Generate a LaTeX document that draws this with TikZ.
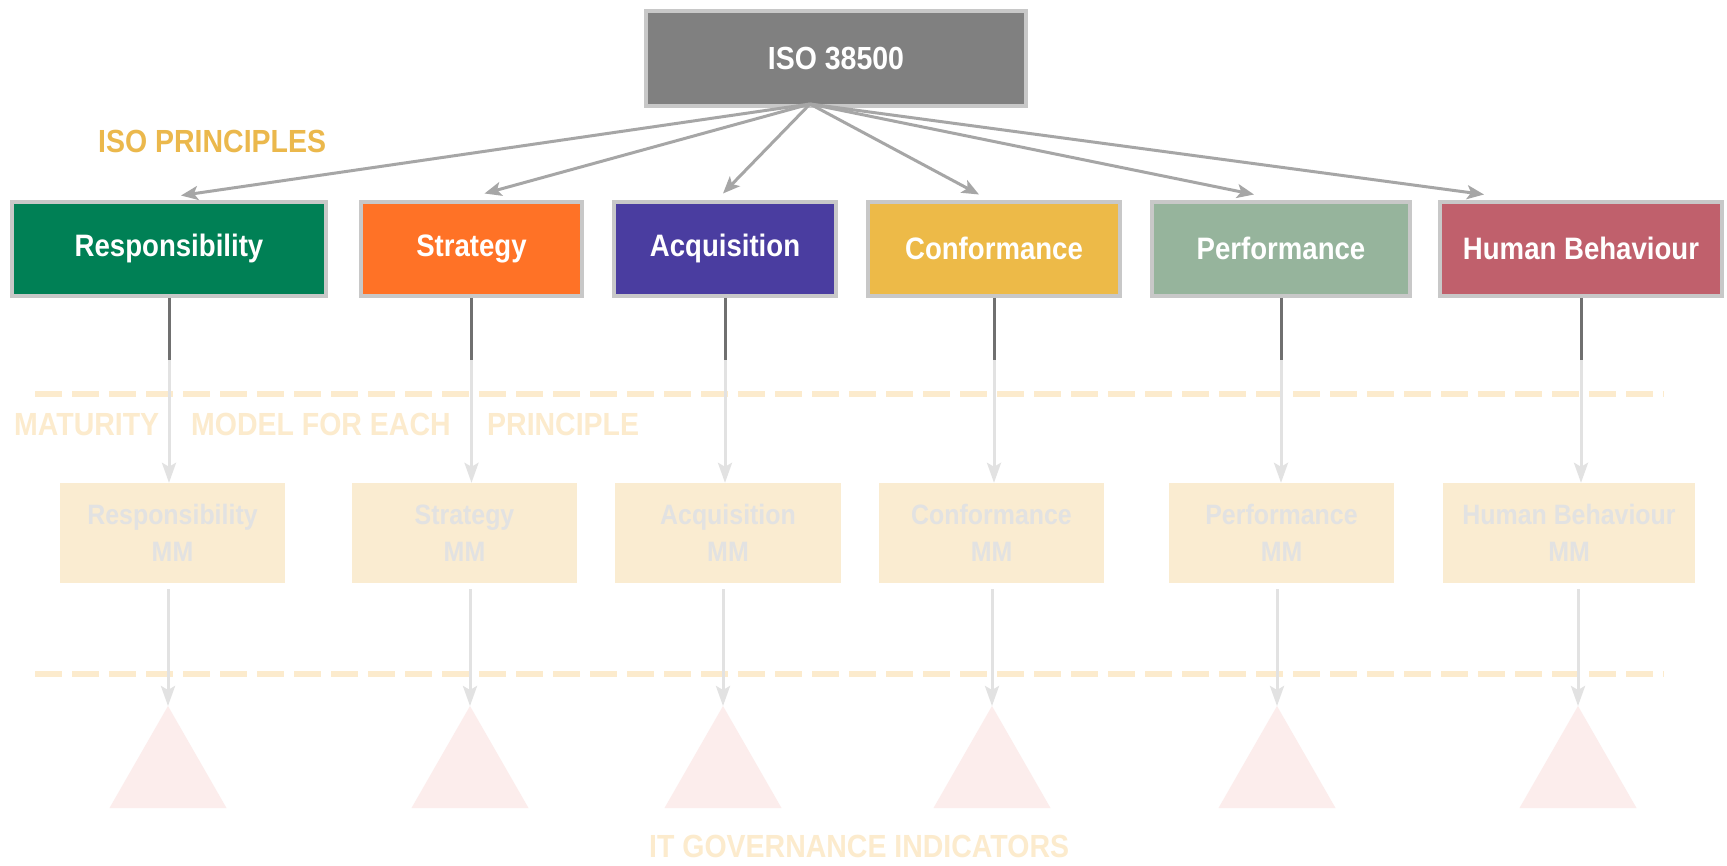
\documentclass[tikz,border=0pt]{standalone}
\usepackage{fontspec}
\newfontfamily\diagfont[FakeStretch=0.89]{Liberation Sans}
\usetikzlibrary{arrows.meta}

\definecolor{isogray}{HTML}{808080}
\definecolor{boxline}{HTML}{C8C8C8}
\definecolor{respgreen}{HTML}{008055}
\definecolor{stratorange}{HTML}{FF7226}
\definecolor{acqpurple}{HTML}{4A3DA0}
\definecolor{confyellow}{HTML}{EDBA48}
\definecolor{perfgreen}{HTML}{96B49C}
\definecolor{humanred}{HTML}{C0606C}
\definecolor{arrowgray}{HTML}{A6A6A6}
\definecolor{stemgray}{HTML}{707070}
\definecolor{fadegray}{HTML}{E2E2E2}
\definecolor{labelorange}{HTML}{EBB84C}
\definecolor{fadeorange}{HTML}{FCEBCD}
\definecolor{mmfill}{HTML}{FAECD1}
\definecolor{trifill}{HTML}{FCEDEC}

\begin{document}
\begin{tikzpicture}[x=1pt, y=-1pt, >=Stealth]
\tikzset{
  box/.style={
    draw=boxline, line width=4pt, rectangle,
    minimum height=94pt, inner sep=0pt,
    text=white, font=\diagfont\bfseries\fontsize{31}{37}\selectfont
  },
  mmbox/.style={
    fill=mmfill, rectangle, minimum height=100pt, inner sep=0pt,
    align=center, text=fadegray, font=\diagfont\bfseries\fontsize{28}{37}\selectfont
  },
  bandtext/.style={anchor=base west, inner sep=0pt, font=\diagfont\bfseries\fontsize{32}{38}\selectfont},
  isoarrow/.style={draw=arrowgray, line width=3pt, -{Stealth[length=17pt, width=14pt, inset=4pt]}},
  fadearrow/.style={draw=fadegray, line width=3pt, -{Stealth[length=20pt, width=14pt, inset=4pt]}},
  stem/.style={draw=stemgray, line width=3pt},
  dashline/.style={draw=fadeorange, line width=6pt, dash pattern=on 27pt off 10pt}
}
\path[use as bounding box, fill=white] (0,0) rectangle (1727,865);

\node[box, fill=isogray, minimum width=380pt, minimum height=95pt, font=\diagfont\bfseries\fontsize{32}{38}\selectfont] (iso) at (836,58.5) {ISO 38500};
\node[bandtext, text=labelorange] (isoprinc) at (98,152) {ISO PRINCIPLES};

\node[box, fill=respgreen,   minimum width=314pt] (resp) at (169,248.5)  {Responsibility};
\node[box, fill=stratorange, minimum width=221pt] (strat) at (471.5,248.5) {Strategy};
\node[box, fill=acqpurple,   minimum width=222pt] (acq) at (725,248.5)   {Acquisition};
\node[box, fill=confyellow,  minimum width=252pt] (conf) at (994,248.5)  {Conformance};
\node[box, fill=perfgreen,   minimum width=258pt] (perf) at (1281,248.5) {Performance};
\node[box, fill=humanred,    minimum width=282pt] (human) at (1581,248.5) {Human Behaviour};

\coordinate (hub) at ([xshift=-26pt, yshift=4pt]iso.south);
\draw[isoarrow] (hub) -- ([xshift=12pt, yshift=4pt]resp.north);
\draw[isoarrow] (hub) -- ([xshift=13pt, yshift=6pt]strat.north);
\draw[isoarrow] (hub) -- ([xshift=-2pt, yshift=6pt]acq.north);
\draw[isoarrow] (hub) -- ([xshift=-15pt, yshift=5pt]conf.north);
\draw[isoarrow] (hub) -- ([xshift=-27pt, yshift=5pt]perf.north);
\draw[isoarrow] (hub) -- ([xshift=-97pt, yshift=5pt]human.north);

\draw[dashline] (35,394) -- (1664,394);
\draw[dashline] (35,674) -- (1664,674);

\node[bandtext, text=fadeorange] (maturity) at (14,435)  {MATURITY};
\node[bandtext, text=fadeorange] (modelfor) at (191,435) {MODEL FOR EACH};
\node[bandtext, text=fadeorange] (principle) at (487,435) {PRINCIPLE};

\node[mmbox, minimum width=225pt] (mmresp) at (172.5,533)  {Responsibility\\MM};
\node[mmbox, minimum width=225pt] (mmstrat) at (464.5,533) {Strategy\\MM};
\node[mmbox, minimum width=226pt] (mmacq) at (728,533)     {Acquisition\\MM};
\node[mmbox, minimum width=225pt] (mmconf) at (991.5,533)  {Conformance\\MM};
\node[mmbox, minimum width=225pt] (mmperf) at (1281.5,533) {Performance\\MM};
\node[mmbox, minimum width=252pt] (mmhuman) at (1569,533)  {Human Behaviour\\MM};

\draw[fadearrow] (resp.south) -- (resp.south |- mmresp.north);
\draw[fadearrow] (strat.south) -- (strat.south |- mmstrat.north);
\draw[fadearrow] (acq.south) -- (acq.south |- mmacq.north);
\draw[fadearrow] (conf.south) -- (conf.south |- mmconf.north);
\draw[fadearrow] (perf.south) -- (perf.south |- mmperf.north);
\draw[fadearrow] (human.south) -- (human.south |- mmhuman.north);

\draw[stem] (resp.south) -- ++(0,62);
\draw[stem] (strat.south) -- ++(0,62);
\draw[stem] (acq.south) -- ++(0,62);
\draw[stem] (conf.south) -- ++(0,62);
\draw[stem] (perf.south) -- ++(0,62);
\draw[stem] (human.south) -- ++(0,62);

\coordinate (tipresp) at (168,706);
\coordinate (tipstrat) at (470,706);
\coordinate (tipacq) at (723,706);
\coordinate (tipconf) at (992,706);
\coordinate (tipperf) at (1277,706);
\coordinate (tiphuman) at (1578,706);

\fill[trifill] (tipresp) -- ++(58.5,102) -- ++(-117,0) -- cycle;
\fill[trifill] (tipstrat) -- ++(58.5,102) -- ++(-117,0) -- cycle;
\fill[trifill] (tipacq) -- ++(58.5,102) -- ++(-117,0) -- cycle;
\fill[trifill] (tipconf) -- ++(58.5,102) -- ++(-117,0) -- cycle;
\fill[trifill] (tipperf) -- ++(58.5,102) -- ++(-117,0) -- cycle;
\fill[trifill] (tiphuman) -- ++(58.5,102) -- ++(-117,0) -- cycle;

\draw[fadearrow, shorten <=6pt] (tipresp |- mmresp.south) -- (tipresp);
\draw[fadearrow, shorten <=6pt] (tipstrat |- mmstrat.south) -- (tipstrat);
\draw[fadearrow, shorten <=6pt] (tipacq |- mmacq.south) -- (tipacq);
\draw[fadearrow, shorten <=6pt] (tipconf |- mmconf.south) -- (tipconf);
\draw[fadearrow, shorten <=6pt] (tipperf |- mmperf.south) -- (tipperf);
\draw[fadearrow, shorten <=6pt] (tiphuman |- mmhuman.south) -- (tiphuman);

\node[bandtext, text=fadeorange] (itgov) at (649,857) {IT GOVERNANCE INDICATORS};
\end{tikzpicture}
\end{document}
